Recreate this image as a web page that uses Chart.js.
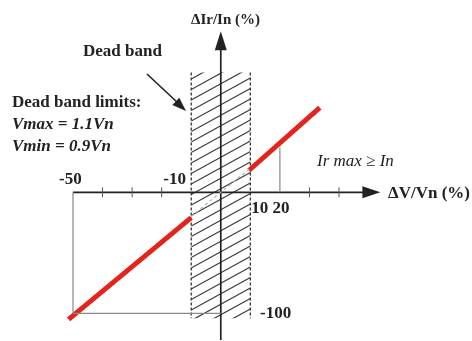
<!DOCTYPE html>
<html>
<head>
<meta charset="utf-8">
<script src="https://cdn.jsdelivr.net/npm/chart.js@4/dist/chart.umd.min.js"></script>
<style>
  html, body { margin: 0; padding: 0; background: #fff; }
  #wrap { position: relative; width: 472px; height: 341px; }
</style>
</head>
<body>
<div id="wrap"><canvas id="chart"></canvas></div>
<script>
// ΔV/Vn (%) -> ΔIr/In (%) characteristic
const lowerV = [-51.5, -10];
const lowerI = [-105, -21];
const upperV = [9.5, 33.5];
const upperI = [18, 70];
const bandLineV = [-10, 10];
const bandLineI = [-20, 20];
const deadBand = [-10, 10];
const bandSpanI = [-104, 99];
const xTicks = [-40, -30, -20, 30, 40];
const xAxisSpan = [-50, 54];
const yAxisSpan = [-122, 133];
const guideV50 = [[-50, 0], [-50, -100]];
const guideI100 = [[-50, -100], [0, -100]];
const guideV20 = [[20, 0], [20, 37]];

const ink = '#222';
const red = '#e3241c';
const serif = '"Liberation Serif", "Times New Roman", serif';

const pts = (xs, ys) => xs.map((x, i) => ({ x: x, y: ys[i] }));
const pair = (p) => p.map(([x, y]) => ({ x: x, y: y }));

function arrowHead(ctx, x, y, angle, len, half) {
  ctx.save();
  ctx.translate(x, y);
  ctx.rotate(angle);
  ctx.beginPath();
  ctx.moveTo(0, 0);
  ctx.lineTo(-len, -half);
  ctx.lineTo(-len, half);
  ctx.closePath();
  ctx.fill();
  ctx.restore();
}

const diagram = {
  id: 'diagram',
  beforeDatasetsDraw(chart) {
    const { ctx, scales: { x, y } } = chart;
    const x0 = x.getPixelForValue(deadBand[0]);
    const x1 = x.getPixelForValue(deadBand[1]);
    const yt = y.getPixelForValue(bandSpanI[1]);
    const yb = y.getPixelForValue(bandSpanI[0]);

    // hatched dead band
    ctx.save();
    ctx.beginPath();
    ctx.rect(x0, yt, x1 - x0, yb - yt);
    ctx.clip();
    ctx.strokeStyle = '#3a3a3a';
    ctx.lineWidth = 1.2;
    const rise = (x1 - x0) * 0.55;
    for (let yy = yt - 4; yy < yb + rise + 11; yy += 10.5) {
      ctx.beginPath();
      ctx.moveTo(x0, yy);
      ctx.lineTo(x1, yy - rise);
      ctx.stroke();
    }
    ctx.restore();

    ctx.save();
    ctx.strokeStyle = '#333';
    ctx.lineWidth = 1.3;
    ctx.setLineDash([3, 2]);
    ctx.beginPath();
    ctx.moveTo(x0, yt); ctx.lineTo(x0, yb);
    ctx.moveTo(x1, yt); ctx.lineTo(x1, yb);
    ctx.stroke();
    ctx.restore();

    // axes
    const ox = x.getPixelForValue(0);
    const oy = y.getPixelForValue(0);
    const xl = x.getPixelForValue(xAxisSpan[0]);
    const xr = x.getPixelForValue(xAxisSpan[1]);
    const yTop = y.getPixelForValue(yAxisSpan[1]);
    const yBot = y.getPixelForValue(yAxisSpan[0]);
    ctx.save();
    ctx.strokeStyle = ink;
    ctx.fillStyle = ink;
    ctx.lineWidth = 1.7;
    ctx.beginPath();
    ctx.moveTo(xl, oy); ctx.lineTo(xr - 6, oy);
    ctx.moveTo(ox, yBot); ctx.lineTo(ox, yTop + 6);
    ctx.stroke();
    arrowHead(ctx, xr, oy, 0, 18, 6);
    arrowHead(ctx, ox, yTop, -Math.PI / 2, 19, 6);

    ctx.lineWidth = 1;
    ctx.strokeStyle = '#555';
    ctx.beginPath();
    xTicks.forEach((t) => {
      const px = x.getPixelForValue(t);
      ctx.moveTo(px, oy - 5);
      ctx.lineTo(px, oy + 5);
    });
    ctx.stroke();
    ctx.restore();
  },
  afterDraw(chart) {
    const { ctx, scales: { x, y } } = chart;
    ctx.save();
    ctx.fillStyle = ink;
    ctx.textBaseline = 'middle';
    ctx.textAlign = 'left';

    const put = (txt, px, py, font) => {
      ctx.font = font;
      ctx.fillText(txt, px, py);
    };
    const bold = 'bold 17px ' + serif;
    const oy = y.getPixelForValue(0);

    put('ΔIr/In (%)', 191, 20, 'bold 15px ' + serif);
    put('ΔV/Vn (%)', 388, oy + 1, bold);
    put('-50', x.getPixelForValue(-50) - 14, oy - 13, bold);
    put('-10', x.getPixelForValue(-10) - 28, oy - 13, bold);
    put('10 20', x.getPixelForValue(10) + 1, oy + 16, bold);
    put('-100', 260, y.getPixelForValue(-100), bold);
    put('Ir max ≥ In', 317, 162, 'italic 17px ' + serif);

    put('Dead band', 83, 52, bold);
    put('Dead band limits:', 12, 103, bold);
    put('Vmax = 1.1Vn', 12, 125, 'italic bold 17px ' + serif);
    put('Vmin = 0.9Vn', 12, 147, 'italic bold 17px ' + serif);

    // pointer to the dead band
    ctx.strokeStyle = ink;
    ctx.lineWidth = 1.6;
    ctx.beginPath();
    ctx.moveTo(147, 74);
    ctx.lineTo(178, 103);
    ctx.stroke();
    arrowHead(ctx, 186, 111, Math.atan2(37, 39), 14, 5);
    ctx.restore();
  }
};

const lineSet = (data, color, width, dash) => ({
  data: data,
  showLine: true,
  borderColor: color,
  borderWidth: width,
  borderDash: dash || [],
  pointRadius: 0,
  fill: false,
});

new Chart(document.getElementById('chart'), {
  type: 'scatter',
  data: {
    datasets: [
      lineSet(pair(guideV50), '#8a8a8a', 1.2),
      lineSet(pair(guideI100), '#8a8a8a', 1.2),
      lineSet(pair(guideV20), '#8a8a8a', 1.2),
      lineSet(pts(bandLineV, bandLineI), '#b0b0b0', 1.2, [3, 3]),
      lineSet(pts(lowerV, lowerI), red, 5),
      lineSet(pts(upperV, upperI), red, 5),
    ],
  },
  options: {
    responsive: true,
    maintainAspectRatio: false,
    animation: false,
    layout: { padding: 0 },
    plugins: { legend: { display: false }, tooltip: { enabled: false } },
    scales: {
      x: { type: 'linear', display: false, min: -74.7, max: 85 },
      y: { type: 'linear', display: false, min: -122.9, max: 158.9 },
    },
  },
  plugins: [diagram],
});
</script>
</body>
</html>
